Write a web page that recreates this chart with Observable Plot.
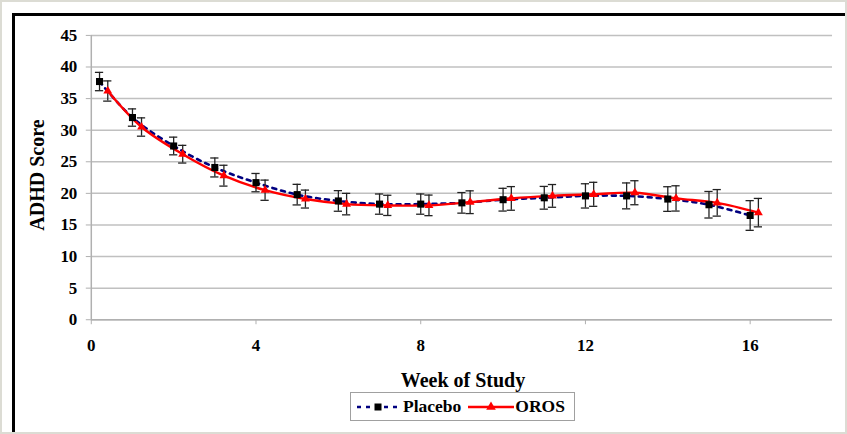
<!DOCTYPE html>
<html>
<head>
<meta charset="utf-8">
<script src="https://cdn.jsdelivr.net/npm/d3@7"></script>
<script src="https://cdn.jsdelivr.net/npm/@observablehq/plot@0.6"></script>
<style>
  html, body { margin: 0; padding: 0; background: #fff; }
  #page { position: relative; width: 847px; height: 434px; overflow: hidden; background: #fff;
          box-sizing: border-box; border: 2px solid #dcdcd4; }
  #frame { position: absolute; left: 10px; top: 11px; width: 900px; height: 500px;
           border-left: 3px solid #000; border-top: 3px solid #000; box-sizing: border-box; }
  #chart { position: absolute; left: -2px; top: -2px; }
  .lbl { position: absolute; font-family: "Liberation Serif", "Times New Roman", serif; font-weight: bold; color: #000; white-space: nowrap; }
  #ylab { left: 35px; top: 173px; font-size: 20px; transform: translate(-50%, -50%) rotate(-90deg); }
  #xlab { left: 461px; top: 378px; font-size: 20px; transform: translate(-50%, -50%); }
  #legend { position: absolute; left: 348px; top: 390px; width: 225px; height: 29px; box-sizing: border-box;
            border: 1px solid #a0a0a0; display: flex; align-items: center; padding-left: 4px;
            font-family: "Liberation Serif", "Times New Roman", serif; font-weight: bold; font-size: 17.5px; }
  #legend svg { display: block; }
  #chart text { font-weight: bold; }
</style>
</head>
<body>
<div id="page">
  <div id="frame"></div>
  <div id="chart"></div>
  <div class="lbl" id="ylab">ADHD Score</div>
  <div class="lbl" id="xlab">Week of Study</div>
  <div id="legend"></div>
</div>
<script>
// ---- data ----
const weeksPlacebo = [0.2, 1, 2, 3, 4, 5, 6, 7, 8, 9, 10, 11, 12, 13, 14, 15, 16];
const placeboScore = [37.7, 32.0, 27.5, 24.1, 21.7, 19.8, 18.8, 18.3, 18.3, 18.5, 19.0, 19.3, 19.6, 19.6, 19.1, 18.2, 16.5];
const placeboErr   = [1.45, 1.37, 1.4, 1.5, 1.45, 1.63, 1.63, 1.6, 1.6, 1.63, 1.8, 1.8, 1.92, 2.05, 1.95, 2.1, 2.35];

const weeksOros = [0.4, 1.22, 2.22, 3.22, 4.22, 5.2, 6.2, 7.2, 8.2, 9.2, 10.2, 11.2, 12.2, 13.2, 14.2, 15.2, 16.2];
const orosScore = [36.2, 30.5, 26.2, 22.8, 20.5, 19.1, 18.3, 18.1, 18.1, 18.6, 19.2, 19.6, 19.85, 20.1, 19.2, 18.5, 16.95];
const orosErr   = [1.6, 1.45, 1.4, 1.65, 1.6, 1.42, 1.7, 1.6, 1.63, 1.8, 1.87, 1.8, 1.9, 1.9, 2.0, 2.1, 2.25];

const xTicks = [0, 4, 8, 12, 16];
const yTicks = [0, 5, 10, 15, 20, 25, 30, 35, 40, 45];
const seriesNames = ["Placebo", "OROS"];

const placebo = weeksPlacebo.map((w, i) => ({week: w, score: placeboScore[i], err: placeboErr[i]}));
const oros = weeksOros.map((w, i) => ({week: w, score: orosScore[i], err: orosErr[i]}));
const all = placebo.concat(oros);

const capHalf = 0.1; // cap half-width in weeks
const navy = "#000080", red = "#ff0000";

const chart = Plot.plot({
  width: 847,
  height: 365,
  marginLeft: 91,
  marginRight: 13,
  marginTop: 35,
  marginBottom: 45,
  x: {domain: [0, 18]},
  y: {domain: [0, 45]},
  style: {fontFamily: "'Liberation Serif', 'Times New Roman', serif", fontWeight: "bold", fontSize: "17px", color: "#000", background: "transparent", overflow: "visible"},
  marks: [
    Plot.gridY(yTicks, {stroke: "#c0c0c0", strokeOpacity: 1, strokeWidth: 1.5}),
    Plot.ruleX([0], {stroke: "#b0b0b0", strokeWidth: 1.5}),
    Plot.ruleY([0], {stroke: "#b0b0b0", strokeWidth: 1.5}),
    Plot.axisY(yTicks, {tickSize: 5, tickPadding: 9, stroke: "#b0b0b0", label: null, fill: "#000"}),
    Plot.axisX(xTicks, {tickSize: 5, tickPadding: 14, stroke: "#b0b0b0", label: null, fill: "#000"}),
    Plot.line(placebo, {x: "week", y: "score", stroke: navy, strokeWidth: 2.6, strokeDasharray: "4,5", curve: "catmull-rom"}),
    Plot.line(oros, {x: "week", y: "score", stroke: red, strokeWidth: 2.4, curve: "catmull-rom"}),
    Plot.ruleX(all, {x: "week", y1: d => d.score - d.err, y2: d => d.score + d.err, stroke: "#222", strokeWidth: 1.3}),
    Plot.ruleY(all, {y: d => d.score + d.err, x1: d => d.week - capHalf, x2: d => d.week + capHalf, stroke: "#222", strokeWidth: 1.3}),
    Plot.ruleY(all, {y: d => d.score - d.err, x1: d => d.week - capHalf, x2: d => d.week + capHalf, stroke: "#222", strokeWidth: 1.3}),
    Plot.dot(placebo, {x: "week", y: "score", symbol: "square", r: 4, fill: "#000", stroke: "none"}),
    Plot.dot(oros, {x: "week", y: "score", symbol: "triangle", r: 3.3, fill: red, stroke: "none"})
  ]
});
document.getElementById("chart").appendChild(chart);

// legend
const legend = d3.select("#legend");
function swatch(kind) {
  const s = legend.append("svg").attr("width", 46).attr("height", 14);
  if (kind === "Placebo") {
    s.append("line").attr("x1", 2).attr("x2", 44).attr("y1", 7).attr("y2", 7)
      .attr("stroke", navy).attr("stroke-width", 2.6).attr("stroke-dasharray", "4,5");
    s.append("rect").attr("x", 19.5).attr("y", 3.5).attr("width", 7).attr("height", 7).attr("fill", "#000");
  } else {
    s.append("line").attr("x1", 0).attr("x2", 46).attr("y1", 7).attr("y2", 7)
      .attr("stroke", red).attr("stroke-width", 2.4);
    s.append("path").attr("d", d3.symbol(d3.symbolTriangle, 40)()).attr("transform", "translate(23,7)").attr("fill", red);
  }
}
seriesNames.forEach((name, i) => {
  swatch(name);
  legend.append("span").style("margin", i === 0 ? "0 7px 0 2px" : "0 0 0 1px").text(name);
});
</script>
</body>
</html>
